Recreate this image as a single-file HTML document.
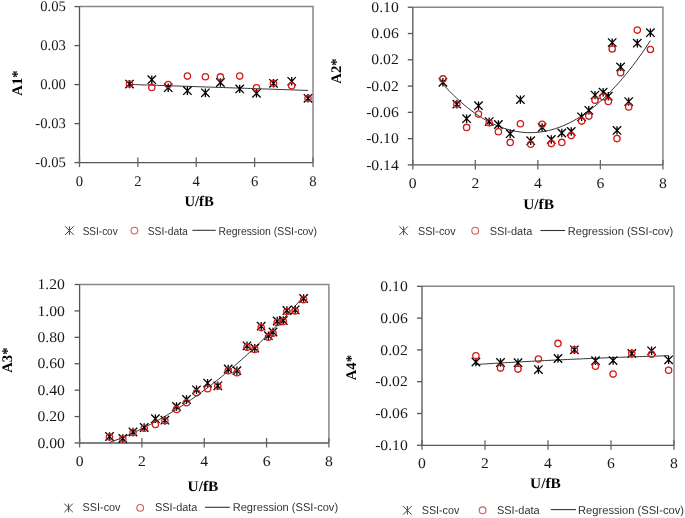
<!DOCTYPE html>
<html><head><meta charset="utf-8"><style>
html,body{margin:0;padding:0;background:#fff;}
svg{display:block;will-change:transform;}
text{text-rendering:geometricPrecision;}
.t{font-family:"Liberation Serif",serif;font-size:14.67px;fill:#1a1a1a;}
.b{font-family:"Liberation Serif",serif;font-size:14.67px;font-weight:bold;fill:#000;}
.l{font-family:"Liberation Sans",sans-serif;font-size:11.4px;fill:#333;}
</style></head><body>
<svg width="685" height="518" viewBox="0 0 685 518">
<rect width="685" height="518" fill="#fff"/>
<path d="M79.50 6.60H313.00V162.60" stroke="#888" stroke-width="1.5" fill="none"/>
<path d="M79.50 6.60V162.60H313.00" stroke="#555" stroke-width="1.3" fill="none"/>
<path d="M74.50 6.60H79.50" stroke="#555" stroke-width="1.3"/>
<text x="65.80" y="11.20" text-anchor="end" class="t" transform="translate(65.80 0) scale(1.0 1) translate(-65.80 0)">0.05</text>
<path d="M74.50 45.60H79.50" stroke="#555" stroke-width="1.3"/>
<text x="65.80" y="50.20" text-anchor="end" class="t" transform="translate(65.80 0) scale(1.0 1) translate(-65.80 0)">0.03</text>
<path d="M74.50 84.60H79.50" stroke="#555" stroke-width="1.3"/>
<text x="65.80" y="89.20" text-anchor="end" class="t" transform="translate(65.80 0) scale(1.0 1) translate(-65.80 0)">0.00</text>
<path d="M74.50 123.60H79.50" stroke="#555" stroke-width="1.3"/>
<text x="65.80" y="128.20" text-anchor="end" class="t" transform="translate(65.80 0) scale(1.0 1) translate(-65.80 0)">-0.03</text>
<path d="M74.50 162.60H79.50" stroke="#555" stroke-width="1.3"/>
<text x="65.80" y="167.20" text-anchor="end" class="t" transform="translate(65.80 0) scale(1.0 1) translate(-65.80 0)">-0.05</text>
<path d="M79.50 157.60V167.10" stroke="#666" stroke-width="1.3"/>
<text x="79.50" y="185.60" text-anchor="middle" class="t" transform="translate(79.50 0) scale(1.0 1) translate(-79.50 0)">0</text>
<path d="M137.88 157.60V167.10" stroke="#666" stroke-width="1.3"/>
<text x="137.88" y="185.60" text-anchor="middle" class="t" transform="translate(137.88 0) scale(1.0 1) translate(-137.88 0)">2</text>
<path d="M196.25 157.60V167.10" stroke="#666" stroke-width="1.3"/>
<text x="196.25" y="185.60" text-anchor="middle" class="t" transform="translate(196.25 0) scale(1.0 1) translate(-196.25 0)">4</text>
<path d="M254.62 157.60V167.10" stroke="#666" stroke-width="1.3"/>
<text x="254.62" y="185.60" text-anchor="middle" class="t" transform="translate(254.62 0) scale(1.0 1) translate(-254.62 0)">6</text>
<path d="M313.00 157.60V167.10" stroke="#666" stroke-width="1.3"/>
<text x="313.00" y="185.60" text-anchor="middle" class="t" transform="translate(313.00 0) scale(1.0 1) translate(-313.00 0)">8</text>
<text transform="translate(17.20 83.00) rotate(-90)" x="0" y="0" text-anchor="middle" class="b" dy="5">A1*</text>
<text x="199.10" y="206.20" text-anchor="middle" class="b" transform="translate(199.10 0) scale(1.0 1) translate(-199.10 0)">U/fB</text>
<path d="M129.50 84.40 L132.53 84.50 L135.55 84.60 L138.58 84.71 L141.60 84.81 L144.63 84.91 L147.65 85.01 L150.68 85.11 L153.70 85.22 L156.73 85.32 L159.75 85.42 L162.78 85.52 L165.81 85.62 L168.83 85.73 L171.86 85.83 L174.88 85.93 L177.91 86.03 L180.93 86.13 L183.96 86.24 L186.98 86.34 L190.01 86.44 L193.03 86.54 L196.06 86.64 L199.08 86.75 L202.11 86.85 L205.14 86.95 L208.16 87.05 L211.19 87.15 L214.21 87.26 L217.24 87.36 L220.26 87.46 L223.29 87.56 L226.31 87.66 L229.34 87.77 L232.36 87.87 L235.39 87.97 L238.42 88.07 L241.44 88.18 L244.47 88.28 L247.49 88.38 L250.52 88.48 L253.54 88.58 L256.57 88.69 L259.59 88.79 L262.62 88.89 L265.64 88.99 L268.67 89.09 L271.69 89.20 L274.72 89.30 L277.75 89.40 L280.77 89.50 L283.80 89.60 L286.82 89.71 L289.85 89.81 L292.87 89.91 L295.90 90.01 L298.92 90.11 L301.95 90.22 L304.97 90.32 L308.00 90.42" stroke="#2a2a2a" stroke-width="0.95" fill="none"/>
<path d="M125.30 79.90L133.70 88.30M125.30 88.30L133.70 79.90M129.50 79.90L129.50 88.30" stroke="#000" stroke-width="1.3" fill="none"/>
<path d="M147.60 75.50L156.00 83.90M147.60 83.90L156.00 75.50M151.80 75.50L151.80 83.90" stroke="#000" stroke-width="1.3" fill="none"/>
<path d="M164.00 83.50L172.40 91.90M164.00 91.90L172.40 83.50M168.20 83.50L168.20 91.90" stroke="#000" stroke-width="1.3" fill="none"/>
<path d="M183.20 86.50L191.60 94.90M183.20 94.90L191.60 86.50M187.40 86.50L187.40 94.90" stroke="#000" stroke-width="1.3" fill="none"/>
<path d="M201.20 88.60L209.60 97.00M201.20 97.00L209.60 88.60M205.40 88.60L205.40 97.00" stroke="#000" stroke-width="1.3" fill="none"/>
<path d="M216.20 78.30L224.60 86.70M216.20 86.70L224.60 78.30M220.40 78.30L220.40 86.70" stroke="#000" stroke-width="1.3" fill="none"/>
<path d="M235.50 84.70L243.90 93.10M235.50 93.10L243.90 84.70M239.70 84.70L239.70 93.10" stroke="#000" stroke-width="1.3" fill="none"/>
<path d="M252.30 89.10L260.70 97.50M252.30 97.50L260.70 89.10M256.50 89.10L256.50 97.50" stroke="#000" stroke-width="1.3" fill="none"/>
<path d="M269.30 79.10L277.70 87.50M269.30 87.50L277.70 79.10M273.50 79.10L273.50 87.50" stroke="#000" stroke-width="1.3" fill="none"/>
<path d="M287.50 77.10L295.90 85.50M287.50 85.50L295.90 77.10M291.70 77.10L291.70 85.50" stroke="#000" stroke-width="1.3" fill="none"/>
<path d="M303.80 94.10L312.20 102.50M303.80 102.50L312.20 94.10M308.00 94.10L308.00 102.50" stroke="#000" stroke-width="1.3" fill="none"/>
<circle cx="129.50" cy="84.10" r="3.15" stroke="#d01c1c" stroke-width="1.3" fill="none"/>
<circle cx="151.80" cy="87.40" r="3.15" stroke="#d01c1c" stroke-width="1.3" fill="none"/>
<circle cx="168.20" cy="84.50" r="3.15" stroke="#d01c1c" stroke-width="1.3" fill="none"/>
<circle cx="187.40" cy="76.10" r="3.15" stroke="#d01c1c" stroke-width="1.3" fill="none"/>
<circle cx="205.40" cy="76.80" r="3.15" stroke="#d01c1c" stroke-width="1.3" fill="none"/>
<circle cx="220.40" cy="76.90" r="3.15" stroke="#d01c1c" stroke-width="1.3" fill="none"/>
<circle cx="239.70" cy="76.10" r="3.15" stroke="#d01c1c" stroke-width="1.3" fill="none"/>
<circle cx="256.50" cy="87.70" r="3.15" stroke="#d01c1c" stroke-width="1.3" fill="none"/>
<circle cx="273.50" cy="83.30" r="3.15" stroke="#d01c1c" stroke-width="1.3" fill="none"/>
<circle cx="291.70" cy="85.80" r="3.15" stroke="#d01c1c" stroke-width="1.3" fill="none"/>
<circle cx="308.00" cy="98.30" r="3.15" stroke="#d01c1c" stroke-width="1.3" fill="none"/>
<path d="M65.10 226.30L73.70 234.90M65.10 234.90L73.70 226.30M69.40 226.30L69.40 234.90" stroke="#444" stroke-width="1.0" fill="none"/>
<text x="82.70" y="234.60" class="l" textLength="35.00" lengthAdjust="spacingAndGlyphs">SSI-cov</text>
<circle cx="134.40" cy="230.60" r="3.4" stroke="#d65a5a" stroke-width="1.1" fill="none"/>
<text x="147.70" y="234.60" class="l" textLength="40.10" lengthAdjust="spacingAndGlyphs">SSI-data</text>
<path d="M192.40 230.30H215.70" stroke="#333" stroke-width="1.1"/>
<text x="218.40" y="234.60" class="l" textLength="98.60" lengthAdjust="spacingAndGlyphs">Regression (SSI-cov)</text>
<path d="M412.80 7.25H662.90V164.90" stroke="#888" stroke-width="1.5" fill="none"/>
<path d="M412.80 7.25V164.90H662.90" stroke="#555" stroke-width="1.3" fill="none"/>
<path d="M407.80 7.25H412.80" stroke="#555" stroke-width="1.3"/>
<text x="398.80" y="11.85" text-anchor="end" class="t" transform="translate(398.80 0) scale(1.07 1) translate(-398.80 0)">0.10</text>
<path d="M407.80 33.53H412.80" stroke="#555" stroke-width="1.3"/>
<text x="398.80" y="38.13" text-anchor="end" class="t" transform="translate(398.80 0) scale(1.07 1) translate(-398.80 0)">0.06</text>
<path d="M407.80 59.80H412.80" stroke="#555" stroke-width="1.3"/>
<text x="398.80" y="64.40" text-anchor="end" class="t" transform="translate(398.80 0) scale(1.07 1) translate(-398.80 0)">0.02</text>
<path d="M407.80 86.08H412.80" stroke="#555" stroke-width="1.3"/>
<text x="398.80" y="90.67" text-anchor="end" class="t" transform="translate(398.80 0) scale(1.07 1) translate(-398.80 0)">-0.02</text>
<path d="M407.80 112.35H412.80" stroke="#555" stroke-width="1.3"/>
<text x="398.80" y="116.95" text-anchor="end" class="t" transform="translate(398.80 0) scale(1.07 1) translate(-398.80 0)">-0.06</text>
<path d="M407.80 138.62H412.80" stroke="#555" stroke-width="1.3"/>
<text x="398.80" y="143.22" text-anchor="end" class="t" transform="translate(398.80 0) scale(1.07 1) translate(-398.80 0)">-0.10</text>
<path d="M407.80 164.90H412.80" stroke="#555" stroke-width="1.3"/>
<text x="398.80" y="169.50" text-anchor="end" class="t" transform="translate(398.80 0) scale(1.07 1) translate(-398.80 0)">-0.14</text>
<path d="M412.80 159.90V169.40" stroke="#666" stroke-width="1.3"/>
<text x="412.80" y="187.70" text-anchor="middle" class="t" transform="translate(412.80 0) scale(1.07 1) translate(-412.80 0)">0</text>
<path d="M475.32 159.90V169.40" stroke="#666" stroke-width="1.3"/>
<text x="475.32" y="187.70" text-anchor="middle" class="t" transform="translate(475.32 0) scale(1.07 1) translate(-475.32 0)">2</text>
<path d="M537.85 159.90V169.40" stroke="#666" stroke-width="1.3"/>
<text x="537.85" y="187.70" text-anchor="middle" class="t" transform="translate(537.85 0) scale(1.07 1) translate(-537.85 0)">4</text>
<path d="M600.38 159.90V169.40" stroke="#666" stroke-width="1.3"/>
<text x="600.38" y="187.70" text-anchor="middle" class="t" transform="translate(600.38 0) scale(1.07 1) translate(-600.38 0)">6</text>
<path d="M662.90 159.90V169.40" stroke="#666" stroke-width="1.3"/>
<text x="662.90" y="187.70" text-anchor="middle" class="t" transform="translate(662.90 0) scale(1.07 1) translate(-662.90 0)">8</text>
<text transform="translate(336.20 71.00) rotate(-90)" x="0" y="0" text-anchor="middle" class="b" dy="5">A2*</text>
<text x="538.60" y="209.20" text-anchor="middle" class="b" transform="translate(538.60 0) scale(1.05 1) translate(-538.60 0)">U/fB</text>
<path d="M442.90 84.11 L446.42 87.94 L449.93 91.61 L453.45 95.13 L456.97 98.49 L460.48 101.69 L464.00 104.74 L467.52 107.63 L471.04 110.36 L474.55 112.93 L478.07 115.34 L481.59 117.60 L485.10 119.70 L488.62 121.64 L492.14 123.43 L495.65 125.05 L499.17 126.52 L502.69 127.84 L506.21 128.99 L509.72 129.99 L513.24 130.83 L516.76 131.51 L520.27 132.03 L523.79 132.40 L527.31 132.61 L530.82 132.66 L534.34 132.55 L537.86 132.29 L541.37 131.87 L544.89 131.29 L548.41 130.56 L551.93 129.66 L555.44 128.61 L558.96 127.40 L562.48 126.04 L565.99 124.51 L569.51 122.83 L573.03 120.99 L576.54 119.00 L580.06 116.84 L583.58 114.53 L587.09 112.06 L590.61 109.44 L594.13 106.65 L597.65 103.71 L601.16 100.61 L604.68 97.35 L608.20 93.94 L611.71 90.37 L615.23 86.64 L618.75 82.75 L622.26 78.71 L625.78 74.51 L629.30 70.15 L632.82 65.63 L636.33 60.95 L639.85 56.12 L643.37 51.13 L646.88 45.99 L650.40 40.68" stroke="#2a2a2a" stroke-width="0.95" fill="none"/>
<path d="M438.70 78.10L447.10 86.50M438.70 86.50L447.10 78.10M442.90 78.10L442.90 86.50" stroke="#000" stroke-width="1.3" fill="none"/>
<path d="M452.60 100.00L461.00 108.40M452.60 108.40L461.00 100.00M456.80 100.00L456.80 108.40" stroke="#000" stroke-width="1.3" fill="none"/>
<path d="M462.40 114.50L470.80 122.90M462.40 122.90L470.80 114.50M466.60 114.50L466.60 122.90" stroke="#000" stroke-width="1.3" fill="none"/>
<path d="M474.30 101.50L482.70 109.90M474.30 109.90L482.70 101.50M478.50 101.50L478.50 109.90" stroke="#000" stroke-width="1.3" fill="none"/>
<path d="M485.00 117.40L493.40 125.80M485.00 125.80L493.40 117.40M489.20 117.40L489.20 125.80" stroke="#000" stroke-width="1.3" fill="none"/>
<path d="M494.20 120.30L502.60 128.70M494.20 128.70L502.60 120.30M498.40 120.30L498.40 128.70" stroke="#000" stroke-width="1.3" fill="none"/>
<path d="M506.00 129.50L514.40 137.90M506.00 137.90L514.40 129.50M510.20 129.50L510.20 137.90" stroke="#000" stroke-width="1.3" fill="none"/>
<path d="M516.20 95.40L524.60 103.80M516.20 103.80L524.60 95.40M520.40 95.40L520.40 103.80" stroke="#000" stroke-width="1.3" fill="none"/>
<path d="M526.50 136.50L534.90 144.90M526.50 144.90L534.90 136.50M530.70 136.50L530.70 144.90" stroke="#000" stroke-width="1.3" fill="none"/>
<path d="M537.90 123.20L546.30 131.60M537.90 131.60L546.30 123.20M542.10 123.20L542.10 131.60" stroke="#000" stroke-width="1.3" fill="none"/>
<path d="M547.10 135.30L555.50 143.70M547.10 143.70L555.50 135.30M551.30 135.30L551.30 143.70" stroke="#000" stroke-width="1.3" fill="none"/>
<path d="M557.60 128.80L566.00 137.20M557.60 137.20L566.00 128.80M561.80 128.80L561.80 137.20" stroke="#000" stroke-width="1.3" fill="none"/>
<path d="M567.00 127.30L575.40 135.70M567.00 135.70L575.40 127.30M571.20 127.30L571.20 135.70" stroke="#000" stroke-width="1.3" fill="none"/>
<path d="M577.40 112.60L585.80 121.00M577.40 121.00L585.80 112.60M581.60 112.60L581.60 121.00" stroke="#000" stroke-width="1.3" fill="none"/>
<path d="M584.60 106.10L593.00 114.50M584.60 114.50L593.00 106.10M588.80 106.10L588.80 114.50" stroke="#000" stroke-width="1.3" fill="none"/>
<path d="M590.80 90.90L599.20 99.30M590.80 99.30L599.20 90.90M595.00 90.90L595.00 99.30" stroke="#000" stroke-width="1.3" fill="none"/>
<path d="M598.90 88.00L607.30 96.40M598.90 96.40L607.30 88.00M603.10 88.00L603.10 96.40" stroke="#000" stroke-width="1.3" fill="none"/>
<path d="M604.10 92.00L612.50 100.40M604.10 100.40L612.50 92.00M608.30 92.00L608.30 100.40" stroke="#000" stroke-width="1.3" fill="none"/>
<path d="M608.00 38.40L616.40 46.80M608.00 46.80L616.40 38.40M612.20 38.40L612.20 46.80" stroke="#000" stroke-width="1.3" fill="none"/>
<path d="M612.80 126.20L621.20 134.60M612.80 134.60L621.20 126.20M617.00 126.20L617.00 134.60" stroke="#000" stroke-width="1.3" fill="none"/>
<path d="M616.40 62.70L624.80 71.10M616.40 71.10L624.80 62.70M620.60 62.70L620.60 71.10" stroke="#000" stroke-width="1.3" fill="none"/>
<path d="M624.50 97.40L632.90 105.80M624.50 105.80L632.90 97.40M628.70 97.40L628.70 105.80" stroke="#000" stroke-width="1.3" fill="none"/>
<path d="M633.10 39.00L641.50 47.40M633.10 47.40L641.50 39.00M637.30 39.00L637.30 47.40" stroke="#000" stroke-width="1.3" fill="none"/>
<path d="M646.20 28.50L654.60 36.90M646.20 36.90L654.60 28.50M650.40 28.50L650.40 36.90" stroke="#000" stroke-width="1.3" fill="none"/>
<circle cx="442.90" cy="78.90" r="3.15" stroke="#d01c1c" stroke-width="1.3" fill="none"/>
<circle cx="456.80" cy="104.20" r="3.15" stroke="#d01c1c" stroke-width="1.3" fill="none"/>
<circle cx="466.60" cy="127.40" r="3.15" stroke="#d01c1c" stroke-width="1.3" fill="none"/>
<circle cx="478.50" cy="114.10" r="3.15" stroke="#d01c1c" stroke-width="1.3" fill="none"/>
<circle cx="489.20" cy="122.80" r="3.15" stroke="#d01c1c" stroke-width="1.3" fill="none"/>
<circle cx="498.40" cy="131.80" r="3.15" stroke="#d01c1c" stroke-width="1.3" fill="none"/>
<circle cx="510.20" cy="142.40" r="3.15" stroke="#d01c1c" stroke-width="1.3" fill="none"/>
<circle cx="520.40" cy="123.80" r="3.15" stroke="#d01c1c" stroke-width="1.3" fill="none"/>
<circle cx="530.70" cy="144.20" r="3.15" stroke="#d01c1c" stroke-width="1.3" fill="none"/>
<circle cx="542.10" cy="124.30" r="3.15" stroke="#d01c1c" stroke-width="1.3" fill="none"/>
<circle cx="551.30" cy="143.60" r="3.15" stroke="#d01c1c" stroke-width="1.3" fill="none"/>
<circle cx="561.80" cy="142.40" r="3.15" stroke="#d01c1c" stroke-width="1.3" fill="none"/>
<circle cx="571.20" cy="135.60" r="3.15" stroke="#d01c1c" stroke-width="1.3" fill="none"/>
<circle cx="581.60" cy="121.10" r="3.15" stroke="#d01c1c" stroke-width="1.3" fill="none"/>
<circle cx="588.80" cy="116.10" r="3.15" stroke="#d01c1c" stroke-width="1.3" fill="none"/>
<circle cx="595.00" cy="100.30" r="3.15" stroke="#d01c1c" stroke-width="1.3" fill="none"/>
<circle cx="603.10" cy="96.80" r="3.15" stroke="#d01c1c" stroke-width="1.3" fill="none"/>
<circle cx="608.30" cy="101.40" r="3.15" stroke="#d01c1c" stroke-width="1.3" fill="none"/>
<circle cx="612.20" cy="49.00" r="3.15" stroke="#d01c1c" stroke-width="1.3" fill="none"/>
<circle cx="617.00" cy="138.60" r="3.15" stroke="#d01c1c" stroke-width="1.3" fill="none"/>
<circle cx="620.60" cy="72.70" r="3.15" stroke="#d01c1c" stroke-width="1.3" fill="none"/>
<circle cx="628.70" cy="106.90" r="3.15" stroke="#d01c1c" stroke-width="1.3" fill="none"/>
<circle cx="637.30" cy="30.10" r="3.15" stroke="#d01c1c" stroke-width="1.3" fill="none"/>
<circle cx="650.40" cy="49.50" r="3.15" stroke="#d01c1c" stroke-width="1.3" fill="none"/>
<path d="M399.30 226.40L407.90 235.00M399.30 235.00L407.90 226.40M403.60 226.40L403.60 235.00" stroke="#444" stroke-width="1.0" fill="none"/>
<text x="418.00" y="234.80" class="l" textLength="37.60" lengthAdjust="spacingAndGlyphs">SSI-cov</text>
<circle cx="475.20" cy="230.70" r="3.4" stroke="#d65a5a" stroke-width="1.1" fill="none"/>
<text x="489.70" y="234.80" class="l" textLength="42.60" lengthAdjust="spacingAndGlyphs">SSI-data</text>
<path d="M540.40 230.50H565.00" stroke="#333" stroke-width="1.1"/>
<text x="567.70" y="234.80" class="l" textLength="105.50" lengthAdjust="spacingAndGlyphs">Regression (SSI-cov)</text>
<path d="M79.60 284.50H328.90V443.00" stroke="#888" stroke-width="1.5" fill="none"/>
<path d="M79.60 284.50V443.00H328.90" stroke="#555" stroke-width="1.3" fill="none"/>
<path d="M74.60 284.50H79.60" stroke="#555" stroke-width="1.3"/>
<text x="64.90" y="289.10" text-anchor="end" class="t" transform="translate(64.90 0) scale(1.07 1) translate(-64.90 0)">1.20</text>
<path d="M74.60 310.92H79.60" stroke="#555" stroke-width="1.3"/>
<text x="64.90" y="315.52" text-anchor="end" class="t" transform="translate(64.90 0) scale(1.07 1) translate(-64.90 0)">1.00</text>
<path d="M74.60 337.33H79.60" stroke="#555" stroke-width="1.3"/>
<text x="64.90" y="341.93" text-anchor="end" class="t" transform="translate(64.90 0) scale(1.07 1) translate(-64.90 0)">0.80</text>
<path d="M74.60 363.75H79.60" stroke="#555" stroke-width="1.3"/>
<text x="64.90" y="368.35" text-anchor="end" class="t" transform="translate(64.90 0) scale(1.07 1) translate(-64.90 0)">0.60</text>
<path d="M74.60 390.17H79.60" stroke="#555" stroke-width="1.3"/>
<text x="64.90" y="394.77" text-anchor="end" class="t" transform="translate(64.90 0) scale(1.07 1) translate(-64.90 0)">0.40</text>
<path d="M74.60 416.58H79.60" stroke="#555" stroke-width="1.3"/>
<text x="64.90" y="421.18" text-anchor="end" class="t" transform="translate(64.90 0) scale(1.07 1) translate(-64.90 0)">0.20</text>
<path d="M74.60 443.00H79.60" stroke="#555" stroke-width="1.3"/>
<text x="64.90" y="447.60" text-anchor="end" class="t" transform="translate(64.90 0) scale(1.07 1) translate(-64.90 0)">0.00</text>
<path d="M79.60 438.00V447.50" stroke="#666" stroke-width="1.3"/>
<text x="79.60" y="465.60" text-anchor="middle" class="t" transform="translate(79.60 0) scale(1.07 1) translate(-79.60 0)">0</text>
<path d="M141.92 438.00V447.50" stroke="#666" stroke-width="1.3"/>
<text x="141.92" y="465.60" text-anchor="middle" class="t" transform="translate(141.92 0) scale(1.07 1) translate(-141.92 0)">2</text>
<path d="M204.25 438.00V447.50" stroke="#666" stroke-width="1.3"/>
<text x="204.25" y="465.60" text-anchor="middle" class="t" transform="translate(204.25 0) scale(1.07 1) translate(-204.25 0)">4</text>
<path d="M266.57 438.00V447.50" stroke="#666" stroke-width="1.3"/>
<text x="266.57" y="465.60" text-anchor="middle" class="t" transform="translate(266.57 0) scale(1.07 1) translate(-266.57 0)">6</text>
<path d="M328.90 438.00V447.50" stroke="#666" stroke-width="1.3"/>
<text x="328.90" y="465.60" text-anchor="middle" class="t" transform="translate(328.90 0) scale(1.07 1) translate(-328.90 0)">8</text>
<text transform="translate(6.80 360.10) rotate(-90)" x="0" y="0" text-anchor="middle" class="b" dy="5">A3*</text>
<text x="203.00" y="490.60" text-anchor="middle" class="b" transform="translate(203.00 0) scale(1.05 1) translate(-203.00 0)">U/fB</text>
<path d="M109.50 442.50 L112.79 441.29 L116.08 440.04 L119.37 438.74 L122.66 437.40 L125.95 436.02 L129.24 434.59 L132.53 433.12 L135.82 431.61 L139.11 430.05 L142.40 428.45 L145.69 426.80 L148.98 425.11 L152.27 423.38 L155.56 421.60 L158.85 419.78 L162.14 417.92 L165.43 416.01 L168.72 414.06 L172.01 412.06 L175.30 410.02 L178.59 407.94 L181.88 405.81 L185.17 403.64 L188.46 401.43 L191.75 399.17 L195.04 396.87 L198.33 394.53 L201.62 392.14 L204.91 389.71 L208.19 387.23 L211.48 384.71 L214.77 382.15 L218.06 379.54 L221.35 376.89 L224.64 374.20 L227.93 371.46 L231.22 368.68 L234.51 365.85 L237.80 362.98 L241.09 360.07 L244.38 357.11 L247.67 354.11 L250.96 351.07 L254.25 347.98 L257.54 344.85 L260.83 341.68 L264.12 338.46 L267.41 335.20 L270.70 331.89 L273.99 328.54 L277.28 325.15 L280.57 321.71 L283.86 318.23 L287.15 314.71 L290.44 311.14 L293.73 307.53 L297.02 303.87 L300.31 300.17 L303.60 296.43" stroke="#2a2a2a" stroke-width="0.95" fill="none"/>
<path d="M105.30 432.30L113.70 440.70M105.30 440.70L113.70 432.30M109.50 432.30L109.50 440.70" stroke="#000" stroke-width="1.3" fill="none"/>
<path d="M118.60 434.30L127.00 442.70M118.60 442.70L127.00 434.30M122.80 434.30L122.80 442.70" stroke="#000" stroke-width="1.3" fill="none"/>
<path d="M128.80 427.80L137.20 436.20M128.80 436.20L137.20 427.80M133.00 427.80L133.00 436.20" stroke="#000" stroke-width="1.3" fill="none"/>
<path d="M140.00 423.30L148.40 431.70M140.00 431.70L148.40 423.30M144.20 423.30L144.20 431.70" stroke="#000" stroke-width="1.3" fill="none"/>
<path d="M151.20 414.50L159.60 422.90M151.20 422.90L159.60 414.50M155.40 414.50L155.40 422.90" stroke="#000" stroke-width="1.3" fill="none"/>
<path d="M160.70 416.00L169.10 424.40M160.70 424.40L169.10 416.00M164.90 416.00L164.90 424.40" stroke="#000" stroke-width="1.3" fill="none"/>
<path d="M172.30 402.30L180.70 410.70M172.30 410.70L180.70 402.30M176.50 402.30L176.50 410.70" stroke="#000" stroke-width="1.3" fill="none"/>
<path d="M182.30 395.30L190.70 403.70M182.30 403.70L190.70 395.30M186.50 395.30L186.50 403.70" stroke="#000" stroke-width="1.3" fill="none"/>
<path d="M192.30 385.60L200.70 394.00M192.30 394.00L200.70 385.60M196.50 385.60L196.50 394.00" stroke="#000" stroke-width="1.3" fill="none"/>
<path d="M203.40 378.90L211.80 387.30M203.40 387.30L211.80 378.90M207.60 378.90L207.60 387.30" stroke="#000" stroke-width="1.3" fill="none"/>
<path d="M213.60 381.60L222.00 390.00M213.60 390.00L222.00 381.60M217.80 381.60L217.80 390.00" stroke="#000" stroke-width="1.3" fill="none"/>
<path d="M224.00 364.80L232.40 373.20M224.00 373.20L232.40 364.80M228.20 364.80L228.20 373.20" stroke="#000" stroke-width="1.3" fill="none"/>
<path d="M232.70 366.50L241.10 374.90M232.70 374.90L241.10 366.50M236.90 366.50L236.90 374.90" stroke="#000" stroke-width="1.3" fill="none"/>
<path d="M242.80 341.60L251.20 350.00M242.80 350.00L251.20 341.60M247.00 341.60L247.00 350.00" stroke="#000" stroke-width="1.3" fill="none"/>
<path d="M250.60 344.00L259.00 352.40M250.60 352.40L259.00 344.00M254.80 344.00L254.80 352.40" stroke="#000" stroke-width="1.3" fill="none"/>
<path d="M257.00 322.00L265.40 330.40M257.00 330.40L265.40 322.00M261.20 322.00L261.20 330.40" stroke="#000" stroke-width="1.3" fill="none"/>
<path d="M264.20 331.50L272.60 339.90M264.20 339.90L272.60 331.50M268.40 331.50L268.40 339.90" stroke="#000" stroke-width="1.3" fill="none"/>
<path d="M268.80 327.80L277.20 336.20M268.80 336.20L277.20 327.80M273.00 327.80L273.00 336.20" stroke="#000" stroke-width="1.3" fill="none"/>
<path d="M273.00 316.80L281.40 325.20M273.00 325.20L281.40 316.80M277.20 316.80L277.20 325.20" stroke="#000" stroke-width="1.3" fill="none"/>
<path d="M279.10 316.30L287.50 324.70M279.10 324.70L287.50 316.30M283.30 316.30L283.30 324.70" stroke="#000" stroke-width="1.3" fill="none"/>
<path d="M282.70 306.30L291.10 314.70M282.70 314.70L291.10 306.30M286.90 306.30L286.90 314.70" stroke="#000" stroke-width="1.3" fill="none"/>
<path d="M291.00 305.60L299.40 314.00M291.00 314.00L299.40 305.60M295.20 305.60L295.20 314.00" stroke="#000" stroke-width="1.3" fill="none"/>
<path d="M299.40 294.30L307.80 302.70M299.40 302.70L307.80 294.30M303.60 294.30L303.60 302.70" stroke="#000" stroke-width="1.3" fill="none"/>
<circle cx="109.50" cy="437.00" r="3.15" stroke="#d01c1c" stroke-width="1.3" fill="none"/>
<circle cx="122.80" cy="439.00" r="3.15" stroke="#d01c1c" stroke-width="1.3" fill="none"/>
<circle cx="133.00" cy="432.50" r="3.15" stroke="#d01c1c" stroke-width="1.3" fill="none"/>
<circle cx="144.20" cy="428.30" r="3.15" stroke="#d01c1c" stroke-width="1.3" fill="none"/>
<circle cx="155.40" cy="424.40" r="3.15" stroke="#d01c1c" stroke-width="1.3" fill="none"/>
<circle cx="164.90" cy="420.70" r="3.15" stroke="#d01c1c" stroke-width="1.3" fill="none"/>
<circle cx="176.50" cy="409.40" r="3.15" stroke="#d01c1c" stroke-width="1.3" fill="none"/>
<circle cx="186.50" cy="402.70" r="3.15" stroke="#d01c1c" stroke-width="1.3" fill="none"/>
<circle cx="196.50" cy="392.70" r="3.15" stroke="#d01c1c" stroke-width="1.3" fill="none"/>
<circle cx="207.60" cy="388.70" r="3.15" stroke="#d01c1c" stroke-width="1.3" fill="none"/>
<circle cx="217.80" cy="386.30" r="3.15" stroke="#d01c1c" stroke-width="1.3" fill="none"/>
<circle cx="228.20" cy="370.70" r="3.15" stroke="#d01c1c" stroke-width="1.3" fill="none"/>
<circle cx="236.90" cy="372.70" r="3.15" stroke="#d01c1c" stroke-width="1.3" fill="none"/>
<circle cx="247.00" cy="347.20" r="3.15" stroke="#d01c1c" stroke-width="1.3" fill="none"/>
<circle cx="254.80" cy="349.40" r="3.15" stroke="#d01c1c" stroke-width="1.3" fill="none"/>
<circle cx="261.20" cy="327.60" r="3.15" stroke="#d01c1c" stroke-width="1.3" fill="none"/>
<circle cx="268.40" cy="337.20" r="3.15" stroke="#d01c1c" stroke-width="1.3" fill="none"/>
<circle cx="273.00" cy="333.20" r="3.15" stroke="#d01c1c" stroke-width="1.3" fill="none"/>
<circle cx="277.20" cy="322.50" r="3.15" stroke="#d01c1c" stroke-width="1.3" fill="none"/>
<circle cx="283.30" cy="321.50" r="3.15" stroke="#d01c1c" stroke-width="1.3" fill="none"/>
<circle cx="286.90" cy="311.50" r="3.15" stroke="#d01c1c" stroke-width="1.3" fill="none"/>
<circle cx="295.20" cy="311.00" r="3.15" stroke="#d01c1c" stroke-width="1.3" fill="none"/>
<circle cx="303.60" cy="299.80" r="3.15" stroke="#d01c1c" stroke-width="1.3" fill="none"/>
<path d="M64.30 503.60L72.90 512.20M64.30 512.20L72.90 503.60M68.60 503.60L68.60 512.20" stroke="#444" stroke-width="1.0" fill="none"/>
<text x="82.60" y="511.00" class="l" textLength="37.90" lengthAdjust="spacingAndGlyphs">SSI-cov</text>
<circle cx="140.20" cy="507.90" r="3.4" stroke="#d65a5a" stroke-width="1.1" fill="none"/>
<text x="154.90" y="511.00" class="l" textLength="42.50" lengthAdjust="spacingAndGlyphs">SSI-data</text>
<path d="M204.90 507.30H229.80" stroke="#333" stroke-width="1.1"/>
<text x="232.70" y="511.00" class="l" textLength="105.40" lengthAdjust="spacingAndGlyphs">Regression (SSI-cov)</text>
<path d="M422.00 286.30H674.00V445.30" stroke="#888" stroke-width="1.5" fill="none"/>
<path d="M422.00 286.30V445.30H674.00" stroke="#555" stroke-width="1.3" fill="none"/>
<path d="M417.00 286.30H422.00" stroke="#555" stroke-width="1.3"/>
<text x="407.80" y="290.90" text-anchor="end" class="t" transform="translate(407.80 0) scale(1.07 1) translate(-407.80 0)">0.10</text>
<path d="M417.00 318.10H422.00" stroke="#555" stroke-width="1.3"/>
<text x="407.80" y="322.70" text-anchor="end" class="t" transform="translate(407.80 0) scale(1.07 1) translate(-407.80 0)">0.06</text>
<path d="M417.00 349.90H422.00" stroke="#555" stroke-width="1.3"/>
<text x="407.80" y="354.50" text-anchor="end" class="t" transform="translate(407.80 0) scale(1.07 1) translate(-407.80 0)">0.02</text>
<path d="M417.00 381.70H422.00" stroke="#555" stroke-width="1.3"/>
<text x="407.80" y="386.30" text-anchor="end" class="t" transform="translate(407.80 0) scale(1.07 1) translate(-407.80 0)">-0.02</text>
<path d="M417.00 413.50H422.00" stroke="#555" stroke-width="1.3"/>
<text x="407.80" y="418.10" text-anchor="end" class="t" transform="translate(407.80 0) scale(1.07 1) translate(-407.80 0)">-0.06</text>
<path d="M417.00 445.30H422.00" stroke="#555" stroke-width="1.3"/>
<text x="407.80" y="449.90" text-anchor="end" class="t" transform="translate(407.80 0) scale(1.07 1) translate(-407.80 0)">-0.10</text>
<path d="M422.00 440.30V449.80" stroke="#666" stroke-width="1.3"/>
<text x="422.00" y="467.80" text-anchor="middle" class="t" transform="translate(422.00 0) scale(1.07 1) translate(-422.00 0)">0</text>
<path d="M485.00 440.30V449.80" stroke="#666" stroke-width="1.3"/>
<text x="485.00" y="467.80" text-anchor="middle" class="t" transform="translate(485.00 0) scale(1.07 1) translate(-485.00 0)">2</text>
<path d="M548.00 440.30V449.80" stroke="#666" stroke-width="1.3"/>
<text x="548.00" y="467.80" text-anchor="middle" class="t" transform="translate(548.00 0) scale(1.07 1) translate(-548.00 0)">4</text>
<path d="M611.00 440.30V449.80" stroke="#666" stroke-width="1.3"/>
<text x="611.00" y="467.80" text-anchor="middle" class="t" transform="translate(611.00 0) scale(1.07 1) translate(-611.00 0)">6</text>
<path d="M674.00 440.30V449.80" stroke="#666" stroke-width="1.3"/>
<text x="674.00" y="467.80" text-anchor="middle" class="t" transform="translate(674.00 0) scale(1.07 1) translate(-674.00 0)">8</text>
<text transform="translate(351.20 367.60) rotate(-90)" x="0" y="0" text-anchor="middle" class="b" dy="5">A4*</text>
<text x="545.50" y="487.60" text-anchor="middle" class="b" transform="translate(545.50 0) scale(1.05 1) translate(-545.50 0)">U/fB</text>
<path d="M475.90 364.49 L479.17 364.29 L482.43 364.08 L485.70 363.88 L488.96 363.68 L492.23 363.49 L495.50 363.29 L498.76 363.10 L502.03 362.91 L505.29 362.72 L508.56 362.53 L511.83 362.35 L515.09 362.16 L518.36 361.98 L521.63 361.80 L524.89 361.62 L528.16 361.45 L531.42 361.28 L534.69 361.10 L537.96 360.93 L541.22 360.77 L544.49 360.60 L547.75 360.44 L551.02 360.27 L554.29 360.11 L557.55 359.96 L560.82 359.80 L564.08 359.65 L567.35 359.49 L570.62 359.34 L573.88 359.19 L577.15 359.05 L580.42 358.90 L583.68 358.76 L586.95 358.62 L590.21 358.48 L593.48 358.34 L596.75 358.21 L600.01 358.08 L603.28 357.95 L606.54 357.82 L609.81 357.69 L613.08 357.56 L616.34 357.44 L619.61 357.32 L622.87 357.20 L626.14 357.08 L629.41 356.97 L632.67 356.85 L635.94 356.74 L639.21 356.63 L642.47 356.52 L645.74 356.42 L649.00 356.31 L652.27 356.21 L655.54 356.11 L658.80 356.01 L662.07 355.92 L665.33 355.82 L668.60 355.73" stroke="#2a2a2a" stroke-width="0.95" fill="none"/>
<path d="M471.70 357.80L480.10 366.20M471.70 366.20L480.10 357.80M475.90 357.80L475.90 366.20" stroke="#000" stroke-width="1.3" fill="none"/>
<path d="M496.30 358.30L504.70 366.70M496.30 366.70L504.70 358.30M500.50 358.30L500.50 366.70" stroke="#000" stroke-width="1.3" fill="none"/>
<path d="M513.80 358.50L522.20 366.90M513.80 366.90L522.20 358.50M518.00 358.50L518.00 366.90" stroke="#000" stroke-width="1.3" fill="none"/>
<path d="M534.20 365.40L542.60 373.80M534.20 373.80L542.60 365.40M538.40 365.40L538.40 373.80" stroke="#000" stroke-width="1.3" fill="none"/>
<path d="M553.80 354.30L562.20 362.70M553.80 362.70L562.20 354.30M558.00 354.30L558.00 362.70" stroke="#000" stroke-width="1.3" fill="none"/>
<path d="M570.20 345.60L578.60 354.00M570.20 354.00L578.60 345.60M574.40 345.60L574.40 354.00" stroke="#000" stroke-width="1.3" fill="none"/>
<path d="M591.30 356.50L599.70 364.90M591.30 364.90L599.70 356.50M595.50 356.50L595.50 364.90" stroke="#000" stroke-width="1.3" fill="none"/>
<path d="M608.90 356.40L617.30 364.80M608.90 364.80L617.30 356.40M613.10 356.40L613.10 364.80" stroke="#000" stroke-width="1.3" fill="none"/>
<path d="M627.60 349.20L636.00 357.60M627.60 357.60L636.00 349.20M631.80 349.20L631.80 357.60" stroke="#000" stroke-width="1.3" fill="none"/>
<path d="M647.40 346.60L655.80 355.00M647.40 355.00L655.80 346.60M651.60 346.60L651.60 355.00" stroke="#000" stroke-width="1.3" fill="none"/>
<path d="M664.40 355.60L672.80 364.00M664.40 364.00L672.80 355.60M668.60 355.60L668.60 364.00" stroke="#000" stroke-width="1.3" fill="none"/>
<circle cx="475.90" cy="355.80" r="3.15" stroke="#d01c1c" stroke-width="1.3" fill="none"/>
<circle cx="500.50" cy="368.10" r="3.15" stroke="#d01c1c" stroke-width="1.3" fill="none"/>
<circle cx="518.00" cy="369.10" r="3.15" stroke="#d01c1c" stroke-width="1.3" fill="none"/>
<circle cx="538.40" cy="359.10" r="3.15" stroke="#d01c1c" stroke-width="1.3" fill="none"/>
<circle cx="558.00" cy="343.40" r="3.15" stroke="#d01c1c" stroke-width="1.3" fill="none"/>
<circle cx="574.40" cy="349.80" r="3.15" stroke="#d01c1c" stroke-width="1.3" fill="none"/>
<circle cx="595.50" cy="366.20" r="3.15" stroke="#d01c1c" stroke-width="1.3" fill="none"/>
<circle cx="613.10" cy="374.10" r="3.15" stroke="#d01c1c" stroke-width="1.3" fill="none"/>
<circle cx="631.80" cy="353.40" r="3.15" stroke="#d01c1c" stroke-width="1.3" fill="none"/>
<circle cx="651.60" cy="354.30" r="3.15" stroke="#d01c1c" stroke-width="1.3" fill="none"/>
<circle cx="668.60" cy="370.30" r="3.15" stroke="#d01c1c" stroke-width="1.3" fill="none"/>
<path d="M403.10 506.00L411.70 514.60M403.10 514.60L411.70 506.00M407.40 506.00L407.40 514.60" stroke="#444" stroke-width="1.0" fill="none"/>
<text x="421.80" y="513.90" class="l" textLength="37.50" lengthAdjust="spacingAndGlyphs">SSI-cov</text>
<circle cx="482.60" cy="510.30" r="3.4" stroke="#d65a5a" stroke-width="1.1" fill="none"/>
<text x="496.90" y="513.90" class="l" textLength="42.80" lengthAdjust="spacingAndGlyphs">SSI-data</text>
<path d="M550.80 509.60H575.90" stroke="#333" stroke-width="1.1"/>
<text x="578.00" y="513.90" class="l" textLength="106.00" lengthAdjust="spacingAndGlyphs">Regression (SSI-cov)</text>
</svg>
</body></html>
